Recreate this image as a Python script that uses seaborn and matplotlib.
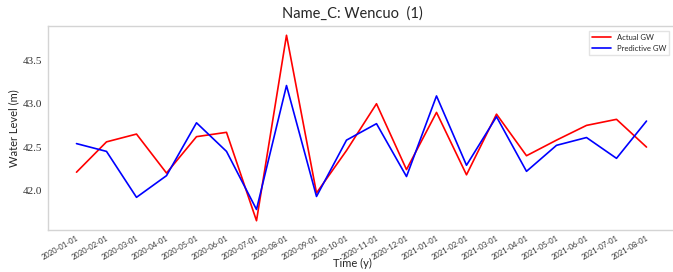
import pandas as pd
import matplotlib
matplotlib.use("Agg")
import matplotlib.pyplot as plt
import seaborn as sns

# monthly dates shown on the x axis
dates = ["2020-01-01", "2020-02-01", "2020-03-01", "2020-04-01", "2020-05-01",
         "2020-06-01", "2020-07-01", "2020-08-01", "2020-09-01", "2020-10-01",
         "2020-11-01", "2020-12-01", "2021-01-01", "2021-02-01", "2021-03-01",
         "2021-04-01", "2021-05-01", "2021-06-01", "2021-07-01", "2021-08-01"]

# water levels (m)
actual_gw = [42.21, 42.56, 42.65, 42.20, 42.62, 42.67, 41.65, 43.79, 41.97, 42.46,
             43.00, 42.24, 42.90, 42.18, 42.88, 42.40, 42.58, 42.75, 42.82, 42.50]
predictive_gw = [42.54, 42.45, 41.92, 42.17, 42.78, 42.45, 41.78, 43.21, 41.93, 42.58,
                 42.77, 42.16, 43.09, 42.29, 42.85, 42.22, 42.52, 42.61, 42.37, 42.80]

series_names = ["Actual GW", "Predictive GW"]
y_ticks = [42.0, 42.5, 43.0, 43.5]

df = pd.DataFrame({
    "date": dates * 2,
    "level": actual_gw + predictive_gw,
    "series": [series_names[0]] * len(dates) + [series_names[1]] * len(dates),
})

sns.set_style("white")
plt.rcParams["font.family"] = ["Lato", "DejaVu Sans"]

fig = plt.figure(figsize=(6.73, 2.72), dpi=100)
# axes extends a little past the right edge, like the reference crop
ax = fig.add_axes([48 / 673, 1 - 230 / 272, 627 / 673, 204 / 272])

sns.lineplot(data=df, x="date", y="level", hue="series",
             palette=["red", "blue"], linewidth=1.2, ax=ax, sort=False)

for s in ax.spines.values():
    s.set_color("#d4d4d4")
    s.set_linewidth(1.0)
ax.spines["right"].set_visible(False)

ax.set_yticks(y_ticks)
ax.set_yticklabels([f"{v:.1f}" for v in y_ticks])

ax.tick_params(axis="x", labelsize=5.5, rotation=30, length=2, color="#d4d4d4", pad=1)
ax.tick_params(axis="y", labelsize=8, length=2, color="#d4d4d4", pad=2)
for lab in ax.get_xticklabels():
    lab.set_ha("right")
    lab.set_rotation_mode("anchor")
    lab.set_color("#333333")
for lab in ax.get_yticklabels():
    lab.set_family(["Liberation Serif", "DejaVu Serif"])
    lab.set_color("#333333")

ax.set_title("Name_C: Wencuo  (1)", fontsize=10.5, x=0.485, pad=6)
ax.set_xlabel("Time (y)", fontsize=8, va="center")
ax.xaxis.set_label_coords(0.485, -0.162)
ax.set_ylabel("Water Level (m)", fontsize=8, va="center")
ax.yaxis.set_label_coords(-34 / 627, 0.5)

ax.legend(loc="upper right", fontsize=5.5, frameon=True, fancybox=False,
          edgecolor="#dddddd", borderaxespad=0.5, handlelength=2.5,
          bbox_to_anchor=(0.997, 0.995))

fig.savefig("out.png", dpi=100)
